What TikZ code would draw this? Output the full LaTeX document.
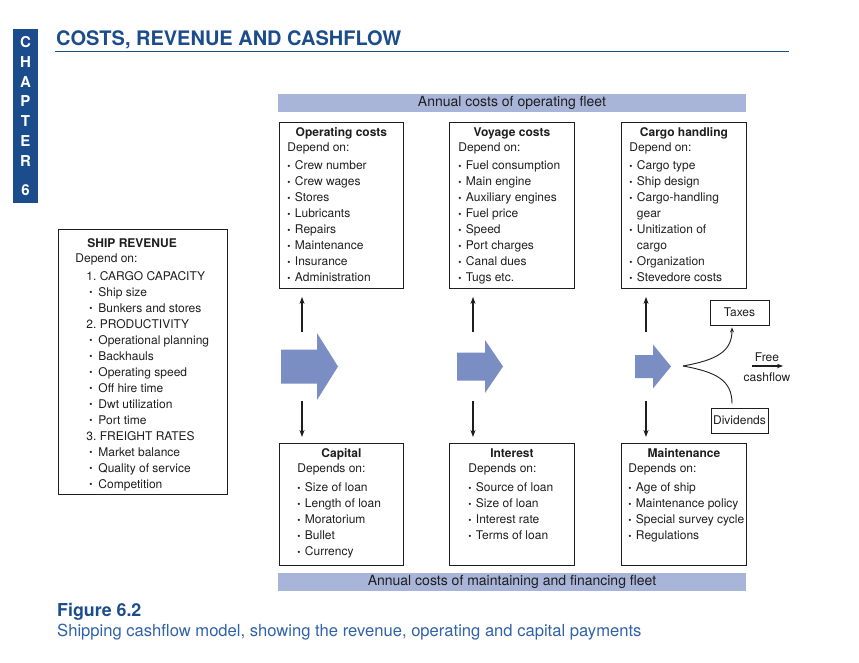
\documentclass[tikz,border=0pt]{standalone}
\usepackage{fontspec}
\setmainfont{TeX Gyre Heros}
\usetikzlibrary{arrows.meta}
\frenchspacing
\definecolor{chapblue}{RGB}{27,76,140}
\definecolor{bandblue}{RGB}{168,180,216}
\definecolor{flowblue}{RGB}{122,142,196}
\definecolor{captblue}{RGB}{48,98,168}
\definecolor{ink}{RGB}{30,30,30}
\tikzstyle{costbox}=[draw=ink, line width=.9pt, inner sep=0pt, anchor=north west, text=ink, font=\fontsize{12}{16}\selectfont]
\tikzstyle{band}=[fill=bandblue, minimum width=468pt, minimum height=18pt, inner sep=0pt, text=ink, font=\fontsize{14}{16}\selectfont]
\tikzstyle{smallbox}=[draw=ink, line width=.9pt, inner sep=0pt, minimum height=25pt, text=ink, font=\fontsize{12}{14}\selectfont]
\tikzstyle{lbl}=[inner sep=0pt, text=ink, font=\fontsize{12}{14}\selectfont]
\tikzstyle{chapletter}=[inner sep=0pt, text=white, font=\fontsize{15}{16}\selectfont\bfseries]
\tikzstyle{vflow}=[line width=1.5pt, ink, -{Stealth[length=7pt,width=5pt]}]
\tikzstyle{fork}=[line width=.9pt, ink]
\newcommand{\boxtext}[5]{\parbox[t][#2][t]{#1}{\leftskip=#3\relax\vspace*{#4}#5}}
\newcommand{\hd}[1]{\hfill\textbf{#1}\hfill\hspace*{\leftskip}\\[-1pt]}
\newcommand{\bulletmark}{\raisebox{.6pt}{\fontsize{9}{9}\selectfont\textbullet}}
\newcommand{\itm}[1]{\mbox{\makebox[7.5pt][l]{\bulletmark}#1}}
\newcommand{\ritm}[1]{\mbox{\hspace*{14pt}\makebox[9pt][l]{\bulletmark}#1}}

\begin{document}
\begin{tikzpicture}[x=1pt, y=-1pt]
  \useasboundingbox (0,0) rectangle (859,662);

  %% chapter tab and heading
  \fill[chapblue] (13,29) rectangle (38,203);
  \foreach \ch/\yy in {C/42,H/62,A/82,P/101,T/121,E/141,R/161,6/190}
    \node[chapletter] (ch\ch) at (25.5,\yy) {\ch};
  \node[anchor=base west, inner sep=0pt, text=chapblue, font=\fontsize{20}{24}\selectfont\bfseries] (title) at (56,45) {COSTS, REVENUE AND CASHFLOW};
  \draw[chapblue, line width=.8pt] (55,51.5) -- (789,51.5);

  %% bands
  \node[band] (opband) at (512,103) {Annual costs of operating fleet};
  \node[band] (finband) at (512,582) {Annual costs of maintaining and financing fleet};

  %% operating side
  \node[costbox] (oper) at (279,122) {\boxtext{124pt}{166pt}{8pt}{5.4pt}{\hd{Operating costs}Depend on:\\[2pt]
    \itm{Crew number}\\\itm{Crew wages}\\\itm{Stores}\\\itm{Lubricants}\\\itm{Repairs}\\\itm{Maintenance}\\\itm{Insurance}\\\itm{Administration}}};
  \node[costbox] (voyage) at (449,122) {\boxtext{125pt}{166pt}{9pt}{5.4pt}{\hd{Voyage costs}Depend on:\\[2pt]
    \itm{Fuel consumption}\\\itm{Main engine}\\\itm{Auxiliary engines}\\\itm{Fuel price}\\\itm{Speed}\\\itm{Port charges}\\\itm{Canal dues}\\\itm{Tugs etc.}}};
  \node[costbox] (cargo) at (621,122) {\boxtext{125pt}{166pt}{8pt}{5.4pt}{\hd{Cargo handling}Depend on:\\[2pt]
    \itm{Cargo type}\\\itm{Ship design}\\\itm{Cargo-handling}\\\hspace*{7.5pt}gear\\\itm{Unitization of}\\\hspace*{7.5pt}cargo\\\itm{Organization}\\\itm{Stevedore costs}}};

  %% financing side
  \node[costbox] (capital) at (279,443) {\boxtext{124pt}{122pt}{18pt}{5.6pt}{\hd{Capital}Depends on:\\[3pt]
    \itm{Size of loan}\\\itm{Length of loan}\\\itm{Moratorium}\\\itm{Bullet}\\\itm{Currency}}};
  \node[costbox] (interest) at (449,443) {\boxtext{125pt}{122pt}{19pt}{5.6pt}{\hd{Interest}Depends on:\\[3pt]
    \itm{Source of loan}\\\itm{Size of loan}\\\itm{Interest rate}\\\itm{Terms of loan}}};
  \node[costbox] (maint) at (621,443) {\boxtext{125pt}{122pt}{7pt}{5.6pt}{\hd{Maintenance}Depends on:\\[3pt]
    \itm{Age of ship}\\\itm{Maintenance policy}\\\itm{Special survey cycle}\\\itm{Regulations}}};

  %% revenue
  \node[costbox] (revenue) at (58,229) {\boxtext{169pt}{265pt}{17pt}{8.7pt}{\hspace*{12pt}\textbf{SHIP REVENUE}\\[-1pt]Depend on:\\[2pt]
    \hspace*{11pt}1. CARGO CAPACITY\\\ritm{Ship size}\\\ritm{Bunkers and stores}\\
    \hspace*{11pt}2. PRODUCTIVITY\\\ritm{Operational planning}\\\ritm{Backhauls}\\\ritm{Operating speed}\\\ritm{Off hire time}\\\ritm{Dwt utilization}\\\ritm{Port time}\\
    \hspace*{11pt}3. FREIGHT RATES\\\ritm{Market balance}\\\ritm{Quality of service}\\\ritm{Competition}}};

  %% cash flowing through
  \foreach \xa/\xb/\xc/\bh/\hh in {281/317/338/17/33.5, 457/485/503/14/26.5, 635/653/671/11.5/22}
    \fill[flowblue] (\xa,{366.5-\bh}) -- (\xb,{366.5-\bh}) -- (\xb,{366.5-\hh}) -- (\xc,366.5)
      -- (\xb,{366.5+\hh}) -- (\xb,{366.5+\bh}) -- (\xa,{366.5+\bh}) -- cycle;
  \foreach \xx/\upper/\lower in {302/oper/capital, 473/voyage/interest, 646/cargo/maint} {
    \coordinate (src) at (\xx,332);
    \draw[vflow] (src) -- ([yshift=-8pt]src |- \upper.south);
    \coordinate (src) at (\xx,401);
    \draw[vflow] (src) -- ([yshift=6pt]src |- \lower.north);
  }

  %% what is left
  \node[smallbox, minimum width=59pt] (taxes) at (739.5,312.5) {Taxes};
  \node[smallbox, minimum width=57pt] (divid) at (739.5,420.5) {Dividends};
  \coordinate (split) at (683,366);
  \draw[fork, -{Stealth[length=5pt,width=4pt]}] (split) .. controls (716,360) and (732,352) .. ([xshift=-7.5pt,yshift=-2pt]taxes.south);
  \draw[fork] (split) .. controls (716,372) and (732,380) .. ([xshift=-7.5pt,yshift=4pt]divid.north);
  \node[lbl] (free) at (767,357) {Free};
  \node[lbl] (cashfl) at (767,377) {cashflow};
  \coordinate (fc) at (752,366);
  \draw[line width=1.5pt, ink, -{Stealth[length=6pt,width=4.5pt]}] (fc) -- ++(31,0);

  %% caption
  \node[anchor=base west, inner sep=0pt, text=chapblue, font=\fontsize{17.8}{20}\selectfont\bfseries] (figlbl) at (57,616) {Figure 6.2};
  \node[anchor=base west, inner sep=0pt, text=captblue, font=\fontsize{16.6}{20}\selectfont] (figcap) at (57,636) {Shipping cashflow model, showing the revenue, operating and capital payments};
\end{tikzpicture}
\end{document}
